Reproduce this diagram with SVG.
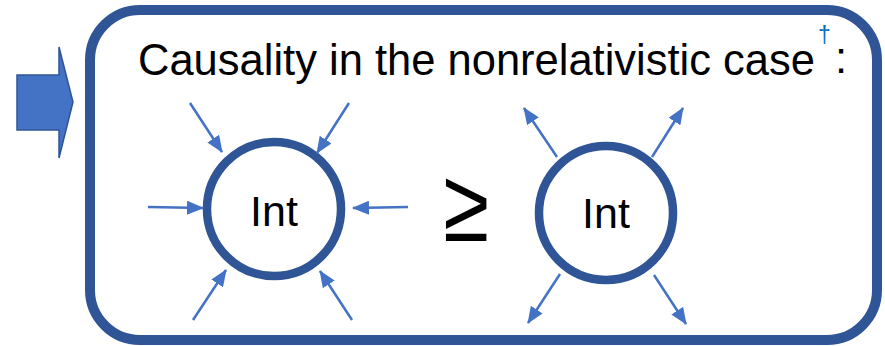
<svg xmlns="http://www.w3.org/2000/svg" width="885" height="346" viewBox="0 0 885 346">
<defs>
<marker id="ah" markerUnits="userSpaceOnUse" markerWidth="17" markerHeight="14" refX="16" refY="7" orient="auto">
<path d="M0,0 L17,7 L0,14 Z" fill="#4472C4"/>
</marker>
<style>
.frame{fill:#fff;stroke:#2F5597;stroke-width:10}
.node{fill:#fff;stroke:#2F5597;stroke-width:8.5}
.lbl{font-family:"Liberation Sans",Arial,sans-serif;fill:#000}
.conn line{stroke:#4472C4;stroke-width:2.5;marker-end:url(#ah)}
</style>
</defs>
<rect width="885" height="346" fill="#fff"/>
<g id="block-arrow">
<path d="M17,75 H59 V47 L73,102 L59,158 V130 H17 Z" fill="#4472C4" stroke="#2F5597" stroke-width="1.5"/>
</g>
<g id="frame">
<rect class="frame" x="90" y="10" width="787" height="330" rx="50" ry="50"/>
<text class="lbl" x="138" y="75" font-size="43.5" textLength="677" lengthAdjust="spacingAndGlyphs">Causality in the nonrelativistic case</text>
<text x="818" y="43" font-family="'Liberation Sans',Arial,sans-serif" font-size="23" fill="#0070C0">†</text>
<text class="lbl" x="835" y="73" font-size="43.5">:</text>
</g>
<g id="int-left">
<circle class="node" cx="274" cy="209" r="67"/>
<text class="lbl" x="274" y="226" font-size="43" text-anchor="middle">Int</text>
</g>
<g id="geq">
<text class="lbl" transform="translate(466,241) scale(0.8,1)" x="0" y="0" font-size="104" text-anchor="middle">≥</text>
</g>
<g id="int-right">
<circle class="node" cx="606" cy="213" r="67"/>
<text class="lbl" x="606" y="228" font-size="43" text-anchor="middle">Int</text>
</g>
<g id="connectors" class="conn">
<line x1="190" y1="103" x2="222" y2="152"/>
<line x1="148" y1="207" x2="203" y2="208"/>
<line x1="193" y1="320" x2="226" y2="270"/>
<line x1="349" y1="103" x2="317" y2="153"/>
<line x1="408" y1="207" x2="353" y2="208"/>
<line x1="352" y1="320" x2="320" y2="271"/>
<line x1="557" y1="157" x2="524" y2="108"/>
<line x1="652" y1="157" x2="683" y2="108"/>
<line x1="560" y1="274" x2="528" y2="323"/>
<line x1="654" y1="275" x2="686" y2="324"/>
</g>
</svg>
